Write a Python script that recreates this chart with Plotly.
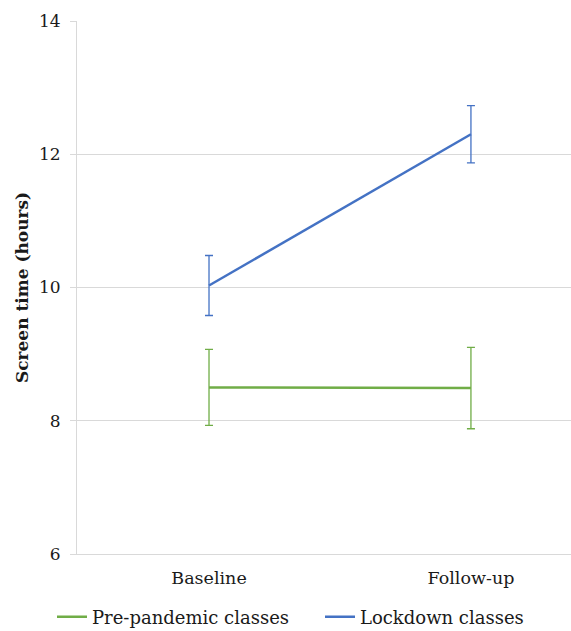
import plotly.graph_objects as go

# Time points and group means with error margins (hours)
timepoints = ["Baseline", "Follow-up"]
prepandemic_mean = [8.50, 8.49]
prepandemic_err = [0.57, 0.61]
lockdown_mean = [10.03, 12.30]
lockdown_err = [0.45, 0.43]

y_ticks = [6, 8, 10, 12, 14]

GREEN = "#70AD47"
BLUE = "#4472C4"
GRID = "#D9D9D9"
FONT = "DejaVu Serif"

x_pos = list(range(len(timepoints)))

fig = go.Figure()
fig.add_trace(go.Scatter(
    x=x_pos, y=prepandemic_mean, mode="lines",
    name="Pre-pandemic classes", legend="legend",
    line=dict(color=GREEN, width=2.5),
    error_y=dict(type="data", array=prepandemic_err, visible=True,
                 color=GREEN, thickness=1.3, width=4),
))
fig.add_trace(go.Scatter(
    x=x_pos, y=lockdown_mean, mode="lines",
    name="Lockdown classes", legend="legend2",
    line=dict(color=BLUE, width=2.5),
    error_y=dict(type="data", array=lockdown_err, visible=True,
                 color=BLUE, thickness=1.3, width=4),
))

legend_common = dict(
    orientation="h",
    xref="container", yref="container",
    xanchor="left", y=0.022, yanchor="middle",
    font=dict(size=18), itemwidth=30,
)

fig.update_layout(
    width=571, height=631,
    margin=dict(l=77, r=0, t=21, b=77),
    paper_bgcolor="white", plot_bgcolor="white",
    font=dict(family=FONT, size=18, color="#1a1a1a"),
    showlegend=True,
    legend=dict(legend_common, x=52 / 571),
    legend2=dict(legend_common, x=320 / 571),
    xaxis=dict(
        range=[-0.504, 1.382],
        tickmode="array", tickvals=x_pos, ticktext=timepoints,
        tickfont=dict(size=17.5),
        showgrid=False, zeroline=False,
        showline=True, linecolor=GRID, linewidth=1,
        ticks="", ticklabelstandoff=8,
    ),
    yaxis=dict(
        range=[6, 14],
        tickmode="array", tickvals=y_ticks,
        tickfont=dict(size=17),
        showgrid=True, gridcolor=GRID, gridwidth=1,
        zeroline=False,
        showline=True, linecolor=GRID, linewidth=1,
        ticks="outside", ticklen=6, tickcolor=GRID, ticklabelstandoff=6,
        title=dict(text="<b>Screen time (hours)</b>", font=dict(size=17), standoff=6),
    ),
)

fig.write_html("out.html")
